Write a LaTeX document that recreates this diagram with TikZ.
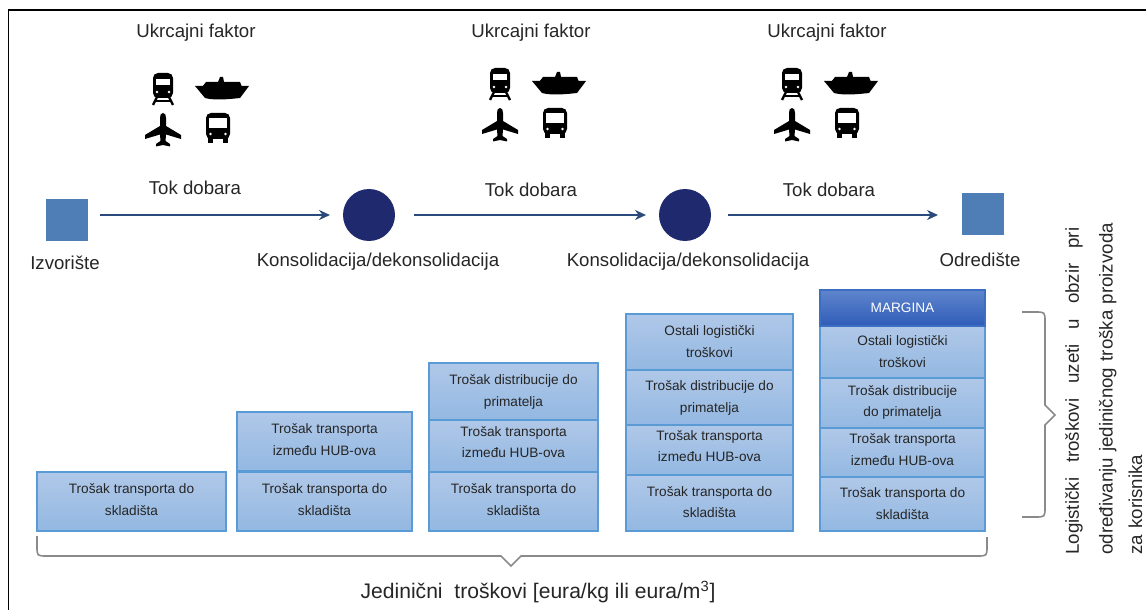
\documentclass[tikz,border=0pt]{standalone}
\usepackage{fontspec}
\setmainfont{Liberation Sans}
\usepackage{tikz}
\usetikzlibrary{arrows.meta}
\newlength{\px}
\setlength{\px}{0.025cm}
\definecolor{rub}{HTML}{5B9BD5}
\definecolor{gore}{HTML}{B0C8E8}
\definecolor{dolje}{HTML}{93B8E2}
\definecolor{tok}{HTML}{2A4A7C}
\definecolor{krug}{HTML}{1F2A6E}
\definecolor{kvadrat}{HTML}{4F7DB6}
\definecolor{sivo}{HTML}{8A8A8A}
\definecolor{tekst}{HTML}{262626}
\definecolor{marzagore}{HTML}{5F85CC}
\definecolor{marzadolje}{HTML}{2F5CB8}
\tikzset{
  natpis/.style={font=\fontsize{13.25}{15}\selectfont, text=tekst, inner sep=0pt},
  trosak/.style n args={2}{draw=rub, line width=1.5\px, top color=gore, bottom color=dolje,
    minimum width=#1\px, minimum height=#2\px, inner sep=0pt, align=center, text=tekst,
    font=\fontsize{9.7}{15.6}\selectfont},
  marza/.style n args={2}{trosak={#1}{#2}, top color=marzagore, bottom color=marzadolje,
    draw=marzadolje!70!rub, text=white},
  tokdobara/.style={draw=tok, line width=2\px, -{Stealth[length=7.8pt,width=7.1pt]}},
  zagrada/.style={draw=sivo, line width=1.6\px}
}
\newcommand{\Vozila}[2]{
  \begin{scope}[shift={(#1,#2)}]
    % vlak
    \fill [rounded corners=5\px] (-10,-15) rectangle (10,10);
    \fill [white] (-7,-9) rectangle (7,-3);
    \fill [white] (-6,4) circle (1.3);
    \fill [white] (6,4) circle (1.3);
    \draw [line width=2.3\px] (-6,9) -- (-10,17);
    \draw [line width=2.3\px] (6,9) -- (10,17);
    \draw [line width=2\px] (-8,13) -- (8,13);
    % brod
    \fill (32,-2) -- (86,-2) -- (77,10) .. controls (59,12) and (50,12) .. (42,10) -- cycle;
    \fill (39,-1) -- (43,-6) -- (55,-6) -- (57,-11) -- (60,-11) -- (61,-6) -- (77,-6) -- (79,-1) -- cycle;
    % avion
    \fill (0,25) .. controls (2.2,25) and (3,27) .. (3,30) -- (3,38) -- (18,47) -- (18,51)
      -- (3,46.5) -- (2.5,53) -- (7,56) -- (7,58.5) -- (0,57) -- (-7,58.5) -- (-7,56) -- (-2.5,53)
      -- (-3,46.5) -- (-18,51) -- (-18,47) -- (-3,38) -- (-3,30) .. controls (-3,27) and (-2.2,25) .. (0,25) -- cycle;
    % autobus
    \fill [rounded corners=5\px] (43,25) rectangle (67,51);
    \fill [white] (46,30) rectangle (64,40);
    \fill (45,50) rectangle (50,55);
    \fill (60,50) rectangle (65,55);
    \fill [white] (47.5,46) circle (1.3);
    \fill [white] (62.5,46) circle (1.3);
  \end{scope}
}

\begin{document}
\begin{tikzpicture}[x=1\px, y=-1\px]
  \useasboundingbox (0, 0) rectangle (1146, 610);
  \draw [line width=1.5\px] (1146, 10) -- (8.5, 10) -- (8.5, 610);

  \node [natpis] (UF1) at (196, 33) {Ukrcajni faktor};
  \node [natpis] (UF2) at (531, 33) {Ukrcajni faktor};
  \node [natpis] (UF3) at (827, 33) {Ukrcajni faktor};
  \Vozila{163}{88}
  \Vozila{500}{83}
  \Vozila{792}{83}

  \node [draw=none, fill=kvadrat, minimum size=42\px, inner sep=0pt, outer sep=0pt] (IZ) at (67, 220) {};
  \node [draw=none, fill=krug, circle, minimum size=52\px, inner sep=0pt, outer sep=0pt] (K1) at (369, 215) {};
  \node [draw=none, fill=krug, circle, minimum size=52\px, inner sep=0pt, outer sep=0pt] (K2) at (685, 215) {};
  \node [draw=none, fill=kvadrat, minimum size=42\px, inner sep=0pt, outer sep=0pt] (OD) at (983, 214) {};
  \coordinate (IZD) at (88, 215);
  \coordinate (ODL) at (962, 215);
  \draw [tokdobara, shorten <=12\px, shorten >=13\px] (IZD) -- (K1);
  \draw [tokdobara, shorten <=19\px, shorten >=13\px] (K1) -- (K2);
  \draw [tokdobara, shorten <=17\px, shorten >=24\px] (K2) -- (ODL);
  \node [natpis] (T1) at (195, 188) {Tok dobara};
  \node [natpis] (T2) at (531, 190) {Tok dobara};
  \node [natpis] (T3) at (829, 190) {Tok dobara};
  \node [natpis] (LIZ) at (65, 263) {Izvorište};
  \node [natpis] (LK1) at (378, 262) {Konsolidacija/dekonsolidacija};
  \node [natpis] (LK2) at (688, 262) {Konsolidacija/dekonsolidacija};
  \node [natpis] (LOD) at (980, 260) {Odredište};

  \node [trosak={189}{59}] (A1) at (131.5, 501.5) {Trošak transporta do\\skladišta\\[-18\px]};

  \node [trosak={175}{59}] (B1) at (324.5, 501.5) {Trošak transporta do\\skladišta\\[-18\px]};
  \node [trosak={175}{59}] (B2) at (324.5, 441.5) {Trošak transporta\\između HUB-ova\\[-18\px]};

  \node [trosak={169}{59}] (C1) at (513.5, 501.5) {Trošak transporta do\\skladišta\\[-18\px]};
  \node [trosak={169}{52}] (C2) at (513.5, 446) {Trošak transporta\\između HUB-ova\\[-14\px]};
  \node [trosak={169}{57}] (C3) at (513.5, 391.5) {Trošak distribucije do\\primatelja};

  \node [trosak={167}{56}] (D1) at (709.5, 503) {Trošak transporta do\\skladišta\\[-20\px]};
  \node [trosak={167}{50}] (D2) at (709.5, 450) {Trošak transporta\\između HUB-ova\\[-14\px]};
  \node [trosak={167}{55}] (D3) at (709.5, 397.5) {Trošak distribucije do\\primatelja\\[-20\px]};
  \node [trosak={167}{56}] (D4) at (709.5, 342) {Ostali logistički\\troškovi};

  \node [trosak={165}{54}] (E1) at (902.5, 504) {Trošak transporta do\\skladišta};
  \node [trosak={165}{49}] (E2) at (902.5, 452.5) {Trošak transporta\\između HUB-ova\\[-16\px]};
  \node [trosak={165}{50}] (E3) at (902.5, 403) {Trošak distribucije\\do primatelja\\[-18\px]};
  \node [trosak={165}{52}] (E4) at (902.5, 352) {Ostali logistički\\troškovi};
  \node [marza={165}{36}] (E5) at (902.5, 308) {MARGINA};

  \draw [zagrada] (37, 536) -- (37, 546) .. controls (37, 556) .. (47, 556) -- (501, 556) -- (511, 566)
    -- (521, 556) -- (977, 556) .. controls (987, 556) .. (987, 546) -- (987, 537);
  \draw [zagrada] (1022, 312) -- (1035, 312) .. controls (1045, 312) .. (1045, 322) -- (1045, 405) -- (1055, 415)
    -- (1045, 425) -- (1045, 507) .. controls (1045, 517) .. (1035, 517) -- (1022, 517);

  \node [natpis, font=\fontsize{15}{17}\selectfont] (JT) at (538, 592) {Jedinični\ \ troškovi [eura/kg ili eura/m\textsuperscript{3}]};
  \node [natpis, font=\fontsize{13.3}{21}\selectfont, rotate=90, anchor=north west, text width=350\px, align=left] (LT) at (1065, 555)
    {\makebox[327\px]{Logistički\hfill troškovi\hfill uzeti\hfill u\hfill obzir\hfill pri}\\[3pt]određivanju jediničnog troška proizvoda\\za korisnika};
\end{tikzpicture}
\end{document}
